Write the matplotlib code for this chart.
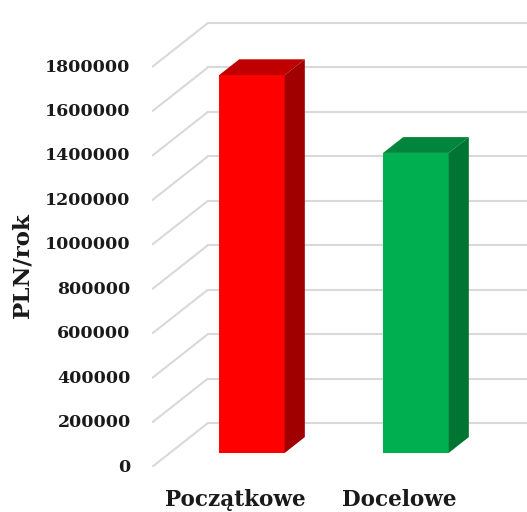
import matplotlib

matplotlib.use("Agg")
import matplotlib.pyplot as plt
from matplotlib.patches import Polygon

categories = ["Początkowe", "Docelowe"]
values = [1700000, 1350000]
tick_values = [0, 200000, 400000, 600000, 800000, 1000000, 1200000, 1400000, 1600000, 1800000]
y_label = "PLN/rok"

front_colors = ["#ff0000", "#00b050"]
top_colors = ["#c00000", "#00853c"]
side_colors = ["#a00000", "#007433"]

# oblique "3-D" offsets, in data units
DEPTH_X = 0.341
DEPTH_Y = 198000
BAR_FRONT = 0.32  # fraction of depth where bar front sits
BAR_BACK = 0.68
BAR_WIDTH = 0.40
FLOOR_LEFT = -0.5
GRID_COLOR = "#d9d9d9"

W, H = 527, 512
fig = plt.figure(figsize=(W / 100, H / 100), dpi=100)
px_unit = 164  # pixels per category
left_px, zero_px = 152, 467
ymax = 2050000
ax = fig.add_axes([left_px / W, (H - zero_px) / H, (W - left_px) / W, (ymax / 4500) / H])
ax.set_xlim(FLOOR_LEFT, FLOOR_LEFT + (W - left_px) / px_unit)
ax.set_ylim(0, ymax)
ax.axis("off")

# gridlines: diagonal on the side wall, horizontal on the back wall
for v in tick_values:
    x0, x1 = FLOOR_LEFT, FLOOR_LEFT + DEPTH_X
    ax.plot([x0, x1], [v, v + DEPTH_Y], color=GRID_COLOR, lw=1.5, zorder=1,
            solid_capstyle="butt")
    ax.plot([x1, 3], [v + DEPTH_Y, v + DEPTH_Y], color=GRID_COLOR, lw=1.5,
            zorder=1, clip_on=False)
    ax.text(FLOOR_LEFT - 0.13, v, f"{v}", ha="right", va="center",
            fontsize=12.5, fontweight="bold", family="DejaVu Serif", color="#1a1a1a")

bdx = (BAR_BACK - BAR_FRONT) * DEPTH_X
bdy = (BAR_BACK - BAR_FRONT) * DEPTH_Y
for i, (val, fc, tc, sc) in enumerate(zip(values, front_colors, top_colors, side_colors)):
    cx = i + BAR_FRONT * DEPTH_X
    base = BAR_FRONT * DEPTH_Y
    xl, xr = cx - BAR_WIDTH / 2, cx + BAR_WIDTH / 2
    top = base + val
    ax.bar(cx, val, bottom=base, width=BAR_WIDTH, color=fc, zorder=3)
    ax.add_patch(Polygon([(xl, top), (xr, top), (xr + bdx, top + bdy), (xl + bdx, top + bdy)],
                         closed=True, facecolor=tc, edgecolor="none", zorder=3))
    ax.add_patch(Polygon([(xr, base), (xr, top), (xr + bdx, top + bdy), (xr + bdx, base + bdy)],
                         closed=True, facecolor=sc, edgecolor="none", zorder=3))
    ax.text(i + 0.01, -150000, categories[i], ha="center", va="center",
            fontsize=15.5, fontweight="bold", family="DejaVu Serif", color="#1a1a1a")

fig.text(22 / W, 1 - 265 / H, y_label, rotation=90, ha="center", va="center",
         fontsize=16.5, fontweight="bold", family="DejaVu Serif", color="#1a1a1a")

fig.savefig("out.png", dpi=100)
